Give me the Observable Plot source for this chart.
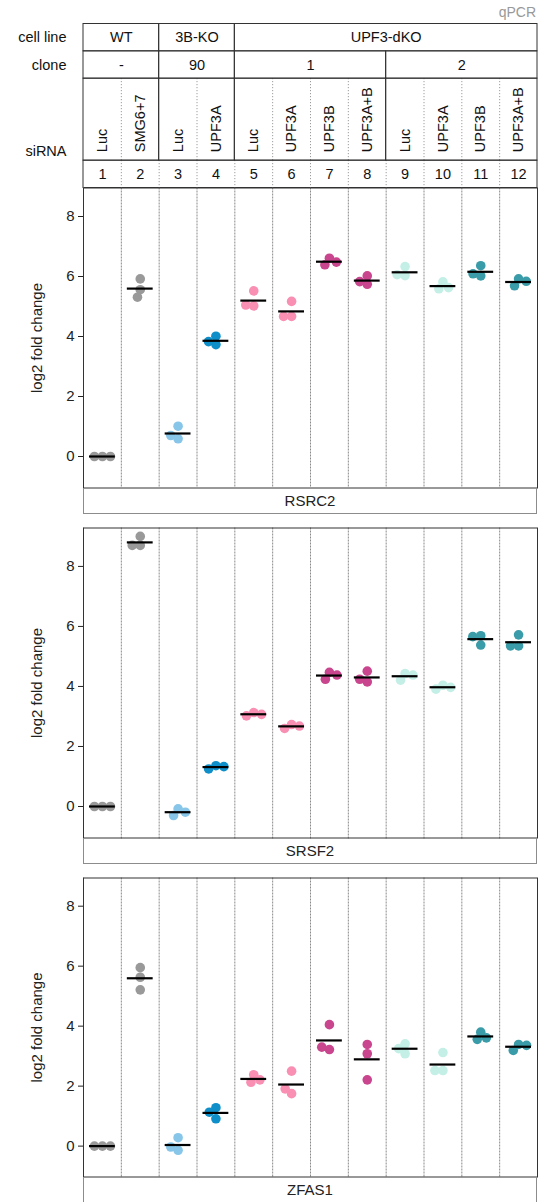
<!DOCTYPE html>
<html><head><meta charset="utf-8">
<script src="https://cdn.jsdelivr.net/npm/d3@7"></script>
<script src="https://cdn.jsdelivr.net/npm/@observablehq/plot@0.6"></script>
<style>
body{margin:0;background:#fff;font-family:"Liberation Sans",Arial,Helvetica,sans-serif;}
#wrap{position:relative;width:543px;height:1202px;overflow:hidden;}
.blk{position:absolute;left:0;}
.strip{position:absolute;left:83px;width:454px;height:26px;box-sizing:border-box;border:1px solid #8c8c8c;border-top:none;font-size:15px;color:#222;text-align:center;line-height:25px;}
#qpcr{position:absolute;right:7px;top:4px;font-size:14px;color:#999;}
</style></head><body><div id="wrap"><div id="qpcr">qPCR</div></div>
<script>
// ---------- data ----------
const columns = [1,2,3,4,5,6,7,8,9,10,11,12];
const siRNA = ["Luc","SMG6+7","Luc","UPF3A","Luc","UPF3A","UPF3B","UPF3A+B","Luc","UPF3A","UPF3B","UPF3A+B"];
const cellLines = [{label:"WT",from:1,to:2},{label:"3B-KO",from:3,to:4},{label:"UPF3-dKO",from:5,to:12}];
const clones = [{label:"-",from:1,to:2},{label:"90",from:3,to:4},{label:"1",from:5,to:8},{label:"2",from:9,to:12}];
const headerRows = [{name:"cell line",top:0,bottom:1},{name:"clone",top:1,bottom:2},{name:"siRNA",top:2,bottom:5},{name:"",top:5,bottom:6}];
const genes = ["RSRC2","SRSF2","ZFAS1"];
const yTicks = [0,2,4,6,8];
const rsrc2 = [[0,0,0],[5.92,5.56,5.31],[1.01,0.59,0.70],[4.01,3.73,3.83],[5.52,5.02,5.05],[5.17,4.67,4.67],
               [6.61,6.39,6.48],[6.02,5.74,5.83],[6.33,6.03,6.06],[5.82,5.59,5.63],[6.36,6.02,6.09],[5.92,5.69,5.84]];
const srsf2 = [[0,0,0],[9.0,8.70,8.70],[-0.08,-0.30,-0.19],[1.36,1.25,1.33],[3.13,3.02,3.07],[2.73,2.60,2.68],
               [4.47,4.24,4.38],[4.51,4.15,4.24],[4.43,4.21,4.38],[4.04,3.91,3.97],[5.69,5.38,5.66],[5.72,5.35,5.35]];
const zfas1 = [[0,0,0],[5.95,5.63,5.21],[0.28,-0.14,-0.03],[1.28,0.91,1.13],[2.38,2.13,2.21],[2.50,1.75,1.91],
               [4.05,3.22,3.30],[3.39,3.08,2.21],[3.41,3.08,3.25],[3.12,2.52,2.52],[3.80,3.56,3.61],[3.39,3.19,3.36]];
const geneValues = [rsrc2, srsf2, zfas1];
const yDomains = [[-1.05, 8.95], [-1.05, 9.28], [-1.03, 8.94]];
const colors = ["#999999","#999999","#87c6e8","#0e8fc9","#f98fb2","#f98fb2","#c9458d","#c9458d","#c3efe6","#c3efe6","#3a9ca8","#3a9ca8"];

// ---------- layout ----------
const FONT = '"Liberation Sans", Arial, Helvetica, sans-serif';
const W = 543, ML = 83, MR = 6;
const panelTops = [187, 527, 877];
const panelHeights = [301, 311, 300];
const wrap = document.getElementById("wrap");

function place(el, top) { el.classList.add("blk"); el.style.top = top + "px"; wrap.appendChild(el); }

// ---------- header ----------
const innerBounds = clones.flatMap(g => d3.range(g.from, g.to).map(c => c + 0.5));
const allBounds = columns.slice(0, -1).map(c => c + 0.5);
const siRow = headerRows[2], numRow = headerRows[3];
const header = Plot.plot({
  width: W, height: 188, marginLeft: ML, marginRight: MR, marginTop: 23.5, marginBottom: 0.5,
  style: {fontFamily: FONT, fontSize: "14.5px", color: "#111", background: "transparent", overflow: "visible"},
  x: {domain: [0.5, 12.5], axis: null},
  y: {domain: [0, 6], reverse: true, axis: null},
  marks: [
    Plot.ruleX(innerBounds, {x: d => d, y1: siRow.top, y2: siRow.bottom, stroke: "#8a8a8a", strokeDasharray: "1,2"}),
    Plot.ruleX(allBounds, {x: d => d, y1: numRow.top, y2: numRow.bottom, stroke: "#8a8a8a", strokeDasharray: "1,2"}),
    Plot.rect(cellLines, {x1: d => d.from - 0.5, x2: d => d.to + 0.5, y1: headerRows[0].top, y2: headerRows[0].bottom, stroke: "#333", fill: "none"}),
    Plot.rect(clones, {x1: d => d.from - 0.5, x2: d => d.to + 0.5, y1: headerRows[1].top, y2: headerRows[1].bottom, stroke: "#333", fill: "none"}),
    Plot.rect(clones, {x1: d => d.from - 0.5, x2: d => d.to + 0.5, y1: siRow.top, y2: siRow.bottom, stroke: "#333", fill: "none"}),
    Plot.rect([numRow], {x1: 0.5, x2: 12.5, y1: d => d.top, y2: d => d.bottom, stroke: "#333", fill: "none"}),
    Plot.text(cellLines, {x: d => (d.from + d.to) / 2, y: (headerRows[0].top + headerRows[0].bottom) / 2, text: "label"}),
    Plot.text(clones, {x: d => (d.from + d.to) / 2, y: (headerRows[1].top + headerRows[1].bottom) / 2, text: "label"}),
    Plot.text(columns, {x: d => d, y: siRow.bottom, text: (d, i) => siRNA[i], rotate: -90, textAnchor: "start", lineAnchor: "middle", dy: -8.5}),
    Plot.text(columns, {x: d => d, y: (numRow.top + numRow.bottom) / 2, text: d => String(d)}),
    Plot.text(headerRows.slice(0, 2), {x: 0.5, y: d => (d.top + d.bottom) / 2, text: "name", textAnchor: "end", dx: -17}),
    Plot.text([siRow], {x: 0.5, y: d => d.bottom, text: "name", textAnchor: "end", dx: -17, dy: -9.5})
  ]
});
place(header, 0);

// ---------- panels ----------
genes.forEach((gene, gi) => {
  const data = geneValues[gi].flatMap((reps, i) => reps.map((v, k) => ({col: columns[i], value: v, rep: k + 1})));
  const chart = Plot.plot({
    width: W, height: panelHeights[gi], marginLeft: ML, marginRight: MR, marginTop: 0.5, marginBottom: 0.5,
    style: {fontFamily: FONT, fontSize: "15px", color: "#222", background: "transparent", overflow: "visible"},
    fx: {domain: columns, padding: 0, round: false, axis: null},
    y: {domain: yDomains[gi]},
    color: {type: "ordinal", domain: columns, range: colors},
    marks: [
      Plot.frame({anchor: "left", stroke: "#8a8a8a", strokeDasharray: "1,2"}),
      Plot.dot(data, Plot.dodgeX({anchor: "middle", padding: -1.6}, {fx: "col", y: "value", r: 4.8, fill: "col"})),
      Plot.tickY(data, Plot.groupZ({y: "mean"}, {fx: "col", y: "value", stroke: "#000", strokeWidth: 2.2, insetLeft: 6, insetRight: 6})),
      Plot.axisY({ticks: yTicks, tickSize: 5, tickPadding: 4, label: null, fontSize: 15, facetAnchor: "left"}),
      Plot.text(["log2 fold change"], {fx: [1], text: d => d, frameAnchor: "left", rotate: -90, dx: -46, fontSize: 15, textAnchor: "middle", lineAnchor: "middle"}),
      Plot.frame({facet: "super", stroke: "#333"})
    ]
  });
  place(chart, panelTops[gi]);
  const strip = document.createElement("div");
  strip.className = "strip";
  strip.textContent = gene;
  strip.style.top = (panelTops[gi] + panelHeights[gi] - 0.5) + "px";
  wrap.appendChild(strip);
});
</script></body></html>
